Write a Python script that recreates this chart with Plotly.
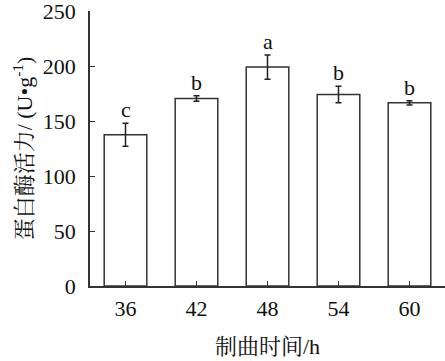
import plotly.graph_objects as go

categories = ["36", "42", "48", "54", "60"]
activity = [137.5, 170.5, 199.0, 174.0, 166.5]
errors = [10.5, 2.5, 11.0, 7.5, 2.0]
letters = ["c", "b", "a", "b", "b"]

SERIF = "Liberation Serif, Times New Roman, Noto Serif CJK SC, Noto Sans CJK SC, serif"
AXC = "#333333"
FS = 22

fig = go.Figure()
fig.add_trace(go.Bar(
    x=list(range(len(categories))), y=activity, width=0.6,
    marker=dict(color="white", line=dict(color=AXC, width=1.5)),
    error_y=dict(type="data", array=errors, visible=True, color="#222222", thickness=1.5, width=3),
))

for i, (v, e, l) in enumerate(zip(activity, errors, letters)):
    fig.add_annotation(x=i, y=v + e, xref="x", yref="y", text=l, showarrow=False,
                       yanchor="bottom", yshift=-1,
                       font=dict(family=SERIF, size=FS, color="#111111"))

fig.update_layout(
    width=445, height=361,
    margin=dict(l=90, r=0, t=11, b=75),
    plot_bgcolor="white", paper_bgcolor="white",
    showlegend=False,
    font=dict(family=SERIF, size=FS, color="#111111"),
)
fig.update_xaxes(
    range=[-0.5, 4.5],
    tickvals=list(range(len(categories))), ticktext=categories,
    showline=True, linecolor=AXC, linewidth=1.5,
    ticks="inside", ticklen=5, tickcolor=AXC, tickwidth=1.2,
    showgrid=False, zeroline=False,
    tickfont=dict(family=SERIF, size=FS), ticklabelstandoff=2,
    title=dict(text="制曲时间/h", font=dict(family=SERIF, size=FS), standoff=18),
)
fig.update_yaxes(
    range=[0, 250], tickvals=[0, 50, 100, 150, 200, 250],
    showline=True, linecolor=AXC, linewidth=1.5,
    ticks="inside", ticklen=5, tickcolor=AXC, tickwidth=1.2,
    showgrid=False, zeroline=False,
    tickfont=dict(family=SERIF, size=FS), ticklabelstandoff=8,
    ticklabeloverflow="allow",
    title=dict(text="蛋白酶活力/ (U•g<sup>-1</sup>)", font=dict(family=SERIF, size=FS), standoff=4),
)

fig.write_html("out.html")
